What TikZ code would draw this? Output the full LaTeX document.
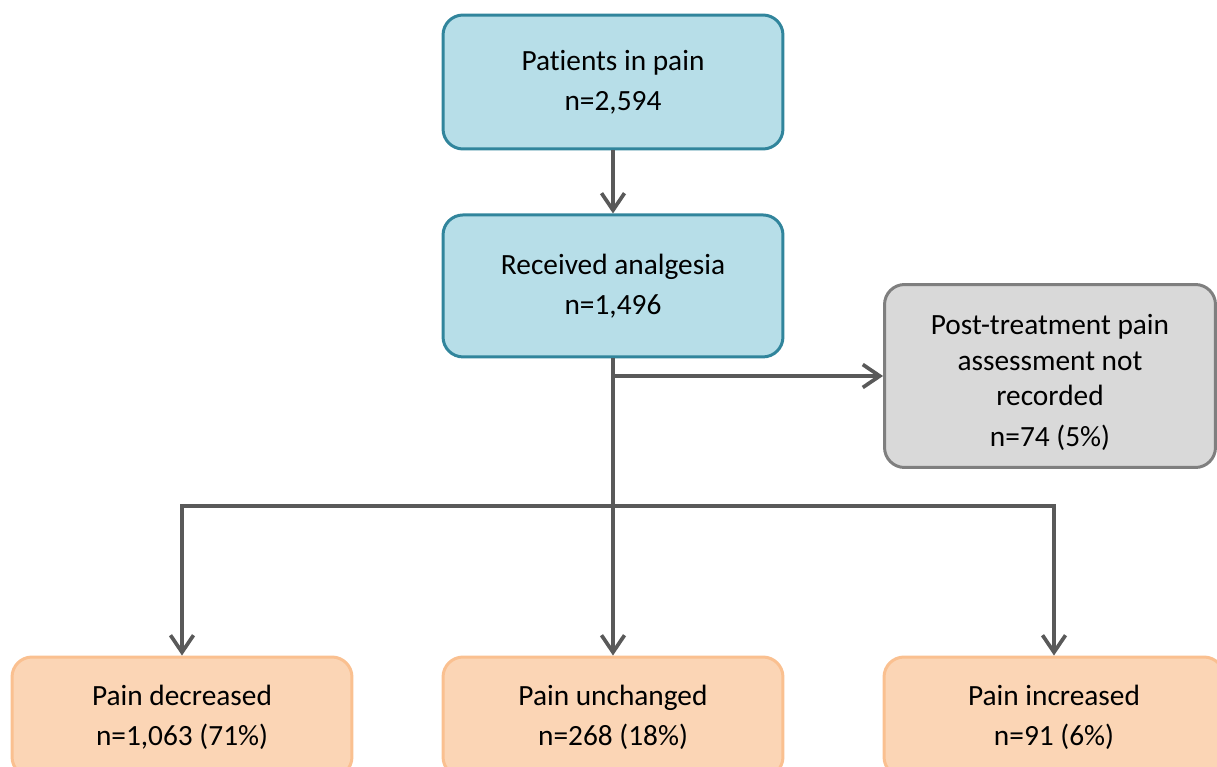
\documentclass[tikz,border=0pt]{standalone}
\usepackage{fontspec}
\setmainfont[Ligatures=NoCommon]{Carlito}
\usepackage{tikz}
\usetikzlibrary{arrows.meta,positioning}

\definecolor{tealline}{HTML}{31859C}
\definecolor{tealfill}{HTML}{B7DEE8}
\definecolor{greyline}{HTML}{7F7F7F}
\definecolor{greyfill}{HTML}{D9D9D9}
\definecolor{orangeline}{HTML}{FAC090}
\definecolor{orangefill}{HTML}{FBD5B5}
\definecolor{arrowgrey}{HTML}{595959}

\begin{document}
\begin{tikzpicture}[
    x=0.02cm, y=-0.02cm,
    font=\fontsize{16.7}{20.2}\selectfont,
    box/.style={rectangle, rounded corners=0.4cm, line width=1.7pt, align=center, minimum width=6.8cm},
    bluebox/.style={box, draw=tealline, fill=tealfill, minimum height=2.68cm},
    greybox/.style={box, draw=greyline, fill=greyfill, minimum width=6.62cm, minimum height=3.66cm},
    orangebox/.style={box, draw=orangeline, fill=orangefill, minimum height=2.4cm},
    arrow/.style={-{Straight Barb[length=0.34cm, width=0.46cm, line width=2.1pt]}, line width=2.1pt, draw=arrowgrey},
    line/.style={line width=2.1pt, draw=arrowgrey}
]
\clip (0,0) rectangle (1217,767);
\useasboundingbox (0,0) rectangle (1217,767);

% Top
\node[bluebox] (pain) at (613,82) {Patients in pain\\[2.5pt]n=2,594};
\node[bluebox, minimum height=2.84cm, below=1.26cm of pain] (analgesia) {Received analgesia\\[2.5pt]n=1,496};

% Excluded
\node[greybox] (missing) at (1050,376) {\rule{0pt}{19pt}Post-treatment pain\\assessment not\\recorded\\[3pt]n=74 (5\%)};

% Outcomes
\node[orangebox] (decreased) at (182,717) {Pain decreased\\[2.5pt]n=1,063 (71\%)};
\node[orangebox] (unchanged) at (613,717) {Pain unchanged\\[2.5pt]n=268 (18\%)};
\node[orangebox] (increased) at (1054,717) {Pain increased\\[2.5pt]n=91 (6\%)};

% Arrows
\coordinate (side) at (analgesia.south |- missing.west);
\coordinate (split) at (613,506);
\draw[arrow] (pain) -- (analgesia);
\draw[line] (analgesia) -- (split);
\draw[arrow] (side) -- (missing.west);
\draw[arrow] (split) -| (decreased.north);
\draw[arrow] (split) -- (unchanged.north);
\draw[arrow] (split) -| (increased.north);
\end{tikzpicture}
\end{document}
